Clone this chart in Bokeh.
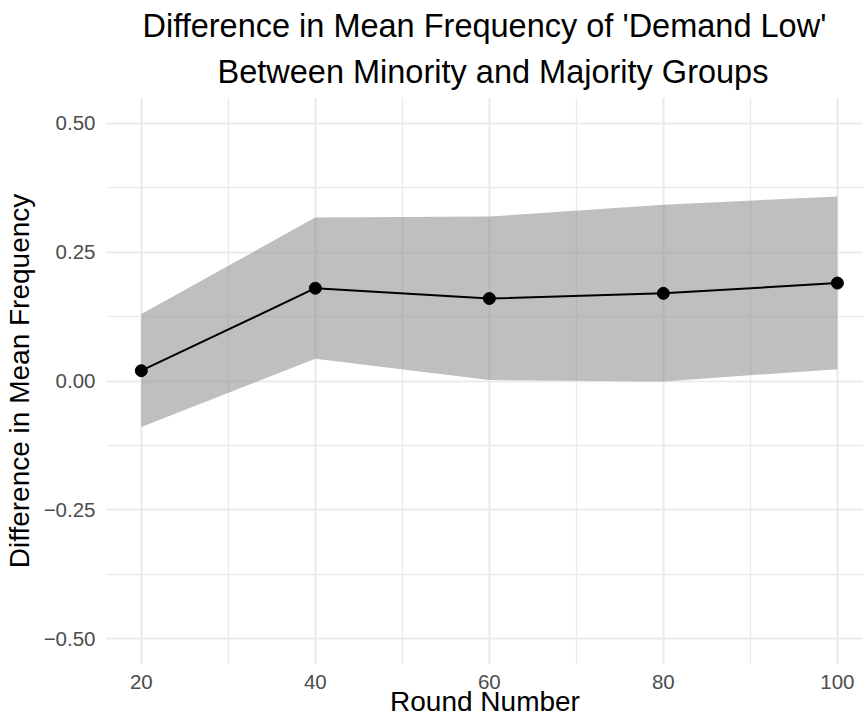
from bokeh.plotting import figure
from bokeh.models import FixedTicker, Range1d, Title, CustomJSTickFormatter
from bokeh.embed import file_html
from bokeh.resources import INLINE

rounds = [20, 40, 60, 80, 100]
mean_diff = [0.020, 0.180, 0.160, 0.170, 0.190]
ci_lower = [-0.089, 0.043, 0.002, -0.001, 0.023]
ci_upper = [0.130, 0.317, 0.319, 0.342, 0.358]

x_ticks = [20, 40, 60, 80, 100]
x_minor = [30, 50, 70, 90]
y_ticks = [-0.5, -0.25, 0.0, 0.25, 0.5]
y_minor = [-0.375, -0.125, 0.125, 0.375]

FONT = "Liberation Sans"

p = figure(
    frame_width=757, frame_height=567,
    min_border_left=99, min_border_right=0, min_border_bottom=0, min_border_top=0,
    x_range=Range1d(16, 103), y_range=Range1d(-0.55, 0.55),
    output_backend="svg", toolbar_location=None,
)
p.outline_line_color = None
p.background_fill_color = "white"
p.border_fill_color = "white"

# titles (bottom line first so it sits closest to the plot)
p.add_layout(Title(text="Between Minority and Majority Groups", align="left",
                   text_font=FONT, text_font_size="32.5px", text_font_style="normal",
                   text_color="black", offset=111, standoff=15), "above")
p.add_layout(Title(text="Difference in Mean Frequency of 'Demand Low'", align="left",
                   text_font=FONT, text_font_size="32.5px", text_font_style="normal",
                   text_color="black", offset=36, standoff=2), "above")
p.add_layout(Title(text=" ", text_font=FONT, text_font_size="1.5px", standoff=0), "above")

for g in (p.xgrid, p.ygrid):
    g.grid_line_color = "#EBEBEB"
    g.grid_line_width = 2.2
    g.minor_grid_line_color = "#EBEBEB"
    g.minor_grid_line_width = 1.4

p.xaxis.ticker = FixedTicker(ticks=x_ticks, minor_ticks=x_minor)
p.yaxis.ticker = FixedTicker(ticks=y_ticks, minor_ticks=y_minor)
p.xgrid.ticker = p.xaxis.ticker
p.ygrid.ticker = p.yaxis.ticker

p.yaxis.formatter = CustomJSTickFormatter(code="return tick.toFixed(2).replace('-', '\u2212');")

for ax in (p.xaxis, p.yaxis):
    ax.axis_line_color = None
    ax.major_tick_line_color = None
    ax.minor_tick_line_color = None
    ax.major_tick_out = 0
    ax.minor_tick_out = 0
    ax.major_tick_in = 0
    ax.minor_tick_in = 0
    ax.major_label_text_font = FONT
    ax.major_label_text_font_size = "20.5px"
    ax.major_label_text_color = "#4D4D4D"
    ax.axis_label_text_font = FONT
    ax.axis_label_text_font_size = "28px"
    ax.axis_label_text_font_style = "normal"
    ax.axis_label_text_color = "black"

p.xaxis.axis_label = "Round Number"
p.yaxis.axis_label = "Difference in Mean Frequency"
p.xaxis.major_label_standoff = 10
p.xaxis.axis_label_standoff = -6
p.yaxis.major_label_standoff = 11
p.yaxis.axis_label_standoff = 6

p.varea(x=rounds, y1=ci_lower, y2=ci_upper, fill_color="#7F7F7F", fill_alpha=0.5)
p.line(rounds, mean_diff, line_color="black", line_width=2)
p.scatter(rounds, mean_diff, size=12, fill_color="black", line_color="black")

open("out.html", "w").write(file_html(p, INLINE))
